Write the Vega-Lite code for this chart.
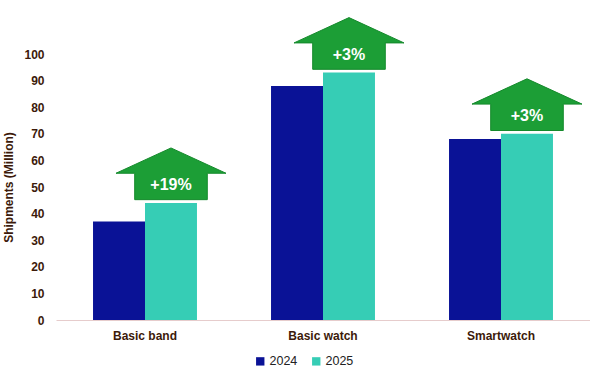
{
  "$schema": "https://vega.github.io/schema/vega-lite/v6.json",
  "autosize": {"type": "none"},
  "padding": {"left": 56, "top": 54, "right": 0, "bottom": 52},
  "width": 534,
  "height": 266,
  "background": "white",
  "config": {"view": {"stroke": null}, "font": "Liberation Sans"},
  "data": {
    "values": [
      {"category": "Basic band", "year": "2024", "shipments": 37, "change": null},
      {"category": "Basic band", "year": "2025", "shipments": 44, "change": "+19%"},
      {"category": "Basic watch", "year": "2024", "shipments": 88, "change": null},
      {"category": "Basic watch", "year": "2025", "shipments": 93, "change": "+3%"},
      {"category": "Smartwatch", "year": "2024", "shipments": 68, "change": null},
      {"category": "Smartwatch", "year": "2025", "shipments": 70, "change": "+3%"}
    ]
  },
  "encoding": {
    "x": {
      "field": "category",
      "type": "nominal",
      "sort": null,
      "scale": {"paddingInner": 0.416, "paddingOuter": 0.208},
      "axis": {
        "title": null,
        "labelAngle": 0,
        "labelFontWeight": "bold",
        "labelFontSize": 12,
        "labelColor": "#3c1a0a",
        "labelPadding": 10,
        "domainColor": "#e6cccc",
        "ticks": false
      }
    },
    "xOffset": {"field": "year", "type": "nominal"},
    "y": {
      "field": "shipments",
      "type": "quantitative",
      "scale": {"domain": [0, 100]},
      "axis": {
        "title": "Shipments (Million)",
        "titleFontWeight": "bold",
        "titleFontSize": 12,
        "titleColor": "#3c1a0a",
        "titlePadding": 8,
        "labelFontWeight": "bold",
        "labelFontSize": 12,
        "labelColor": "#3c1a0a",
        "labelPadding": 12,
        "tickCount": 10,
        "grid": false,
        "domain": false,
        "ticks": false
      }
    }
  },
  "layer": [
    {
      "mark": {"type": "bar"},
      "encoding": {
        "color": {
          "field": "year",
          "type": "nominal",
          "scale": {"domain": ["2024", "2025"], "range": ["#0a1296", "#36cdb5"]},
          "legend": {
            "title": null,
            "orient": "none",
            "legendX": 198,
            "legendY": 301,
            "direction": "horizontal",
            "symbolType": "square",
            "symbolSize": 70,
            "labelFontSize": 12.5,
            "labelColor": "#222222",
            "columnPadding": 12,
            "labelOffset": 3
          }
        }
      }
    },
    {
      "transform": [{"filter": "datum.change != null"}],
      "mark": {
        "type": "point",
        "filled": true,
        "shape": "M -1 -0.54 L 0 -1.0 L 1 -0.54 L 0.66 -0.54 L 0.66 -0.06 L -0.66 -0.06 L -0.66 -0.54 Z",
        "size": 12100,
        "color": "#1c9e36",
        "stroke": "#158a2c",
        "strokeWidth": 1,
        "opacity": 1
      }
    },
    {
      "transform": [{"filter": "datum.change != null"}],
      "mark": {
        "type": "text",
        "color": "white",
        "fontWeight": "bold",
        "fontSize": 16,
        "dy": -18,
        "baseline": "middle",
        "align": "center"
      },
      "encoding": {"text": {"field": "change"}}
    }
  ]
}
